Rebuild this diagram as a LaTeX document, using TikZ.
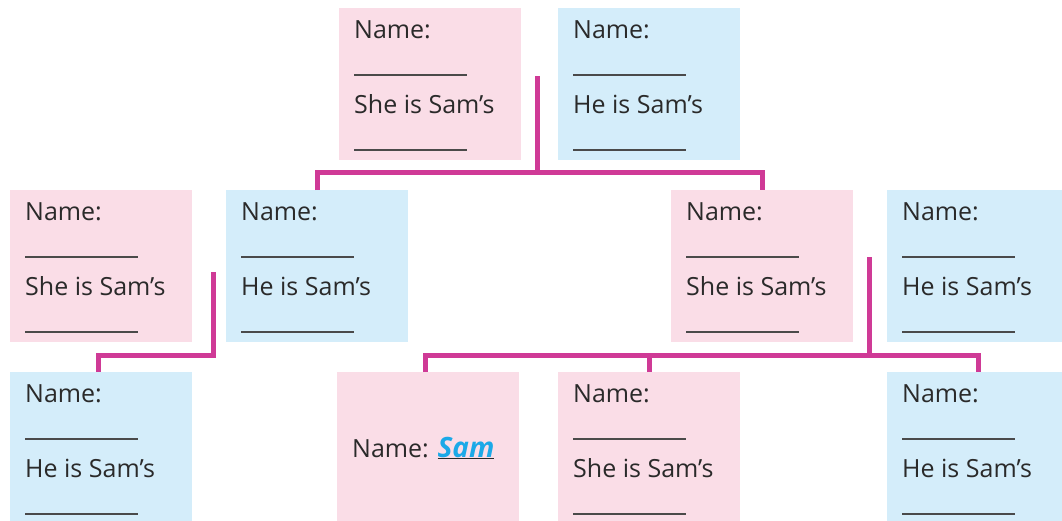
\documentclass[tikz,border=0pt]{standalone}
\usepackage{fontspec}
\setmainfont{Open Sans}
\usetikzlibrary{calc}
\definecolor{cpink}{HTML}{FADDE7}
\definecolor{cblue}{HTML}{D4EDFA}
\definecolor{cline}{HTML}{CF3A96}
\definecolor{ctext}{HTML}{2A2A2A}
\definecolor{csam}{HTML}{1BA9E8}
\tikzset{
 card/.style={fill=#1, draw=none, minimum width=182pt, minimum height=152pt, anchor=north west, inner sep=0pt, outer sep=0pt},
 lbl/.style={anchor=base west, inner sep=0pt, text=ctext, font=\fontsize{25}{30}\selectfont},
 blank/.style={draw=ctext!85, line width=1.4pt},
 conn/.style={draw=cline, line width=5pt},
}
\newcommand\famcard[5]{%
 \node[card=#4] (#1) at (#2,#3) {};
 \node[lbl] (#1-n) at ($(#1.north west)+(15,30)$) {Name:};
 \draw[blank] ($(#1.north west)+(15,67)$) -- ++(113,0);
 \node[lbl] (#1-r) at ($(#1.north west)+(15,105)$) {#5};
 \draw[blank] ($(#1.north west)+(15,142)$) -- ++(113,0);
}
\begin{document}
\begin{tikzpicture}[x=1pt,y=-1pt]
\useasboundingbox (0,0) rectangle (1062,520);
\famcard{gm}{339}{8}{cpink}{She is Sam’s}
\famcard{gf}{558}{8}{cblue}{He is Sam’s}
\famcard{a}{10}{190}{cpink}{She is Sam’s}
\famcard{b}{226}{190}{cblue}{He is Sam’s}
\famcard{c}{671}{190}{cpink}{She is Sam’s}
\famcard{d}{887}{190}{cblue}{He is Sam’s}
\famcard{e}{10}{372}{cblue}{He is Sam’s}
\famcard{f}{558}{372}{cpink}{She is Sam’s}
\famcard{g}{887}{372}{cblue}{He is Sam’s}
\node[card=cpink] (sam) at (337,372) {};
\node[lbl] (sam-n) at ($(sam.north west)+(15,85)$) {Name: {\color{ctext}\underline{\textcolor{csam}{\fontsize{28}{30}\selectfont\textbf{\textit{Sam}}}}}};
% connectors
\coordinate (j1) at (537,76);
\coordinate (k1) at (537,172.5);
\draw[conn] (j1) -- (k1);
\draw[conn] (b.north) |- (k1) -| (c.north);
\coordinate (j2) at (213,272);
\coordinate (k2) at (213,355);
\draw[conn] (j2) -- (k2) -| ($(e.north)+(-3,0)$);
\coordinate (j3) at (869,257);
\coordinate (k3) at (869,355);
\draw[conn] (j3) -- (k3);
\draw[conn] ($(sam.north)+(-2.5,0)$) |- (k3) -| (g.north);
\draw[conn] (f.north) -- (f.north |- k3);
\end{tikzpicture}
\end{document}
